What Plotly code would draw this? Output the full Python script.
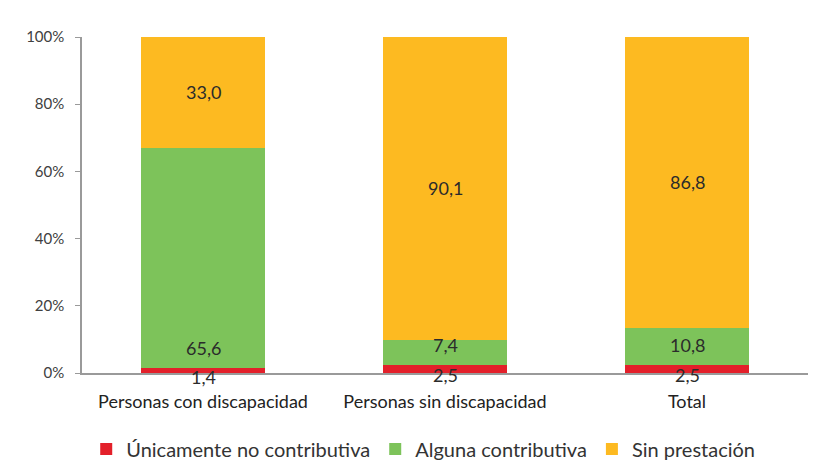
import plotly.graph_objects as go

categories = ["Personas con discapacidad", "Personas sin discapacidad", "Total"]
series_names = ["Únicamente no contributiva", "Alguna contributiva", "Sin prestación"]
no_contrib = [1.4, 2.5, 2.5]
alguna_contrib = [65.6, 7.4, 10.8]
sin_prest = [33.0, 90.1, 86.8]
y_ticks = [0, 20, 40, 60, 80, 100]
y_tick_labels = [f"{t}%" for t in y_ticks]

colors = ["#E3202A", "#7DC35A", "#FDBA21"]
series = [no_contrib, alguna_contrib, sin_prest]

fig = go.Figure()
for name, vals, col in zip(series_names, series, colors):
    fig.add_trace(go.Bar(
        x=categories, y=vals, name=name, marker=dict(color=col, line=dict(width=0)),
        width=0.51,
    ))

def fmt(v):
    return f"{v:.1f}".replace(".", ",")

font_fam = "Lato, 'Open Sans', sans-serif"
txt_col = "#2b2b2b"
lab_font = dict(size=18, color=txt_col, family=font_fam)
annotations = []
for i, cat in enumerate(categories):
    a, b, c = no_contrib[i], alguna_contrib[i], sin_prest[i]
    annotations.append(dict(x=cat, y=a / 2, text=fmt(a), showarrow=False,
                            yshift=-6, font=lab_font))
    annotations.append(dict(x=cat, y=a, text=fmt(b), showarrow=False, yanchor="bottom",
                            yshift=7, font=lab_font))
    annotations.append(dict(x=cat, y=a + b + c / 2, text=fmt(c), showarrow=False,
                            font=lab_font))

fig.update_layout(
    barmode="stack",
    width=818, height=470,
    margin=dict(l=82, r=10, t=37, b=97, autoexpand=False),
    paper_bgcolor="white", plot_bgcolor="white",
    font=dict(family=font_fam, size=15, color="#333333"),
    showlegend=True,
    legend=dict(orientation="h", x=0.47, xanchor="center", y=-0.226, yanchor="middle",
                font=dict(size=20, color="#333333"), traceorder="normal",
                itemsizing="constant"),
    annotations=annotations,
)
fig.update_xaxes(showline=True, linecolor="#9a9a9a", linewidth=1.5, ticks="",
                 tickfont=dict(size=18, color="#222222"), range=[-0.5, 2.5],
                 ticklabelstandoff=12, automargin=False)
fig.update_yaxes(range=[0, 100], tickvals=y_ticks, ticktext=y_tick_labels, showgrid=False,
                 zeroline=False, showline=True, linecolor="#9a9a9a", linewidth=1.5,
                 ticks="outside", ticklen=5, tickcolor="#9a9a9a",
                 ticklabelstandoff=8, automargin=False,
                 tickfont=dict(size=15, color="#404040"))

fig.write_html("out.html", config={"displayModeBar": False},
               post_script="document.body.style.margin='0';")
